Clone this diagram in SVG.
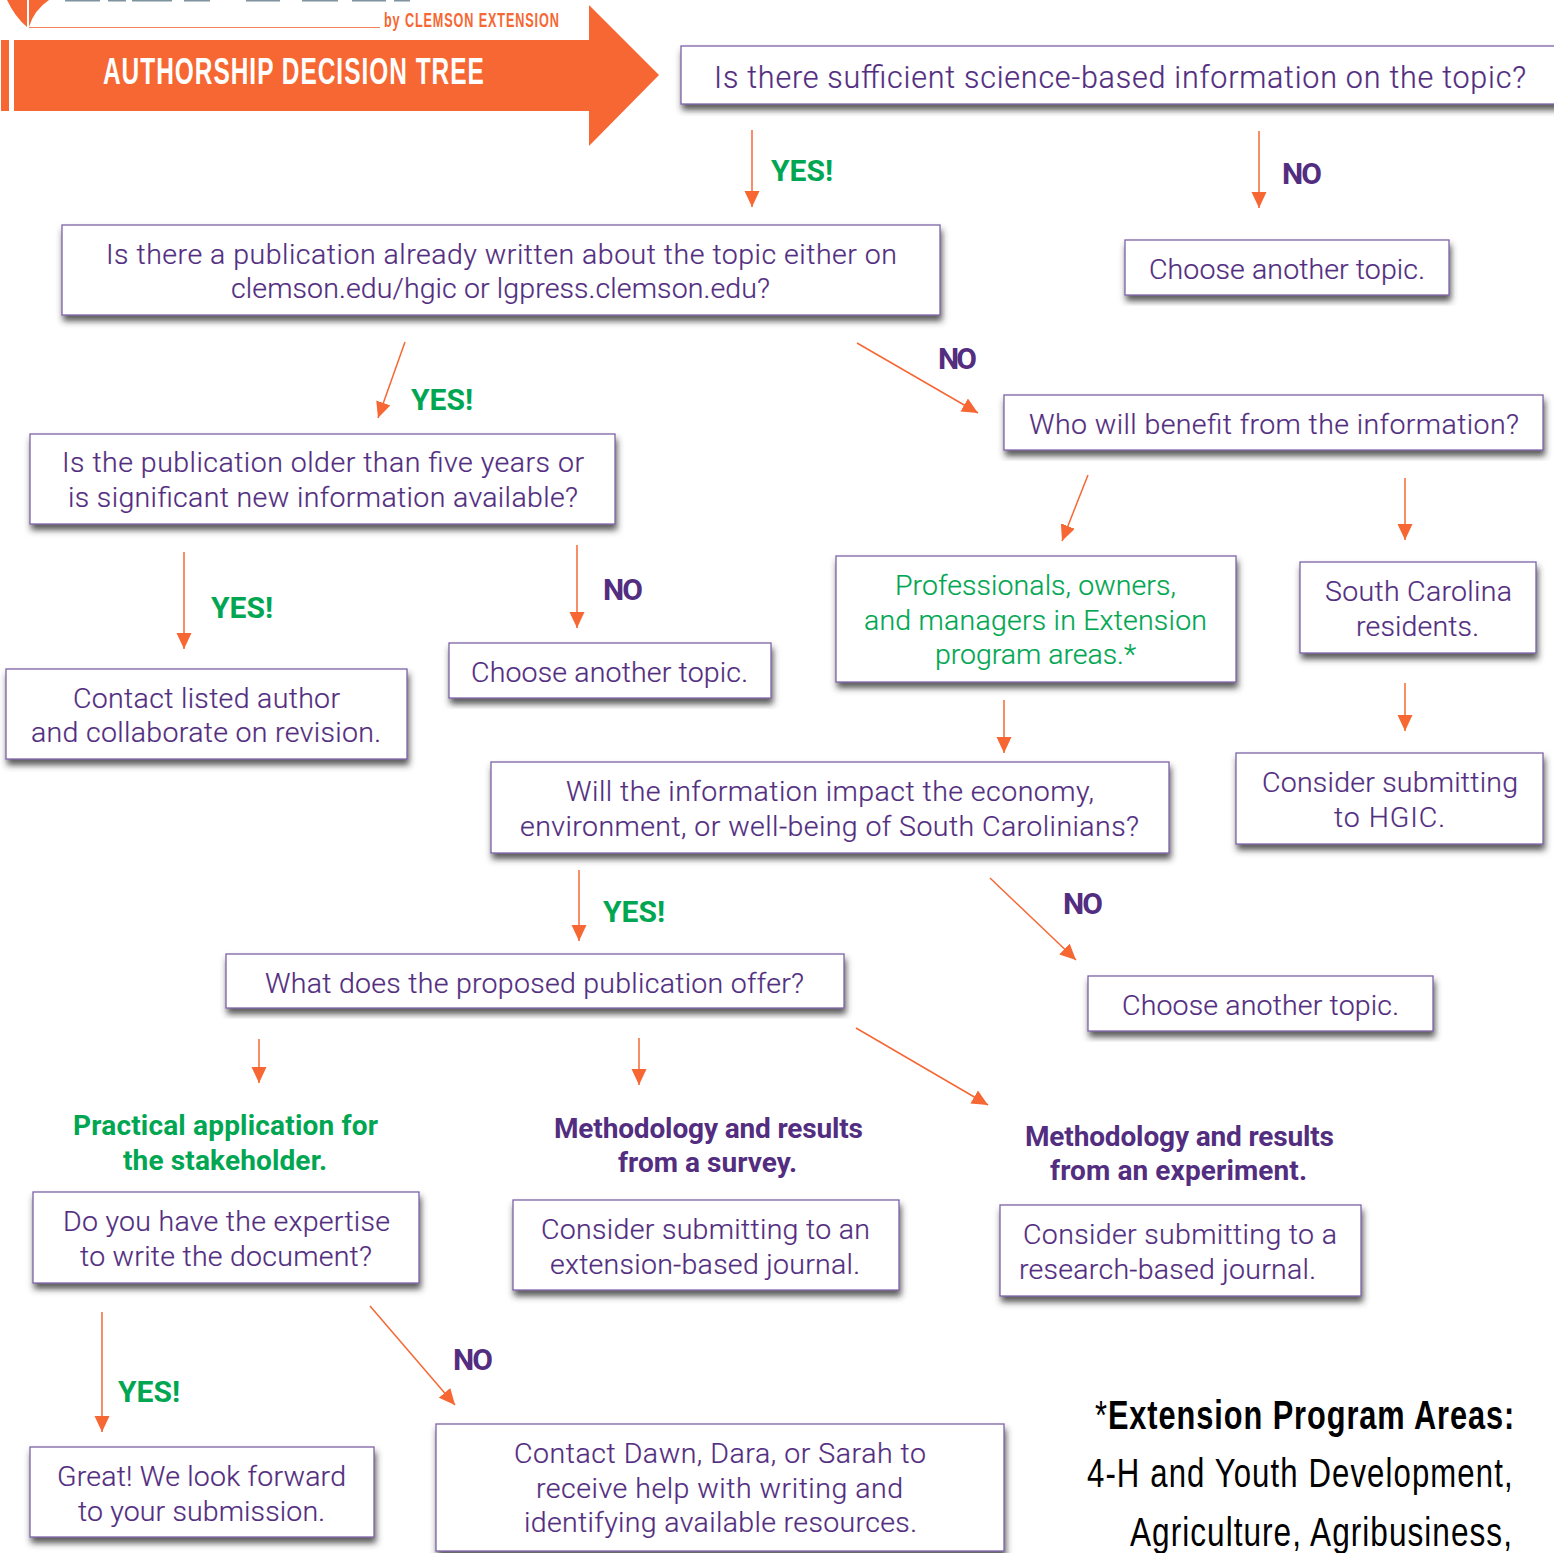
<svg xmlns="http://www.w3.org/2000/svg" width="1554" height="1553" viewBox="0 0 1554 1553">
<style>
text{font-family:Roboto,"Liberation Sans",sans-serif}
.b{fill:#fff;stroke:#7d63a6;stroke-width:1.300;filter:url(#s)}
.t{font-size:28.500px;font-weight:300;fill:#522d80;stroke:#522d80;stroke-width:.2}
.t.g{fill:#00a651;stroke:#00a651}
.h{font-size:30px;font-weight:700;fill:#522d80}
.y{font-size:30px;font-weight:700;fill:#00a651}
.m{font-size:28px}
.n{font-family:"Liberation Sans",sans-serif}
.c line{stroke:#f66733;stroke-width:1.500;marker-end:url(#a)}
</style>
<defs>
<filter id="s" x="-5%" y="-20%" width="110%" height="140%"><feDropShadow dx="1.500" dy="5.500" stdDeviation="3" flood-color="#333" flood-opacity=".8"/></filter>
<marker id="a" markerUnits="userSpaceOnUse" markerWidth="18" markerHeight="18" refX="16" refY="7.5" orient="auto"><path d="M0 0L16 7.500L0 15z" fill="#f66733"/></marker>
</defs>
<rect width="1554" height="1553" fill="#fff"/>
<g id="header">
<path d="M7 0Q15 17 27 27L27 0zM29 0L29 27Q34 10 49 0z" fill="#f66733"/>
<g fill="#7f949f"><rect x="65" y="0" width="35" height="1.500"/><rect x="108" y="0" width="18" height="1.500"/><rect x="132" y="0" width="40" height="1.500"/><rect x="184" y="0" width="26" height="1.500"/><rect x="246" y="0" width="34" height="1.500"/><rect x="302" y="0" width="36" height="1.500"/><rect x="352" y="0" width="34" height="1.500"/><rect x="394" y="0" width="16" height="1.500"/></g>
<path d="M29 27.500H380" stroke="#f3825a" stroke-width="1"/>
<text class="n" transform="translate(384 27) scale(.65 1)" font-size="19.500" font-weight="700" fill="#f66733" textLength="269">by CLEMSON EXTENSION</text>
<rect x="1" y="40" width="8" height="71" fill="#f66733"/>
<path d="M14 40H589V5L659 75L589 146V111H14z" fill="#f66733"/>
<text class="n" transform="translate(103 84) scale(.66 1)" font-size="37" font-weight="700" fill="#fff" textLength="577">AUTHORSHIP DECISION TREE</text>
</g>
<g id="connectors" class="c">
<line x1="752" y1="130" x2="752" y2="207"/><line x1="1259" y1="131" x2="1259" y2="208"/>
<line x1="405" y1="342" x2="378" y2="418"/><line x1="857" y1="343" x2="978" y2="413"/>
<line x1="1088" y1="475" x2="1062" y2="541"/><line x1="1405" y1="478" x2="1405" y2="540"/>
<line x1="184" y1="552" x2="184" y2="649"/><line x1="577" y1="545" x2="577" y2="628"/>
<line x1="1405" y1="683" x2="1405" y2="731"/><line x1="1004" y1="700" x2="1004" y2="753"/>
<line x1="579" y1="870" x2="579" y2="941"/><line x1="990" y1="878" x2="1076" y2="960"/>
<line x1="259" y1="1039" x2="259" y2="1083"/><line x1="639" y1="1038" x2="639" y2="1085"/>
<line x1="856" y1="1028" x2="988" y2="1105"/><line x1="102" y1="1312" x2="102" y2="1432"/>
<line x1="370" y1="1306" x2="455" y2="1405"/>
</g>
<g id="n1"><rect class="b" x="681" y="46" width="880" height="58"/><text class="t" x="714" y="88" style="font-size:30.500px" textLength="812">Is there sufficient science-based information on the topic?</text></g>
<g id="n2"><rect class="b" x="62" y="225" width="878" height="90"/><text class="t" x="106" y="264" textLength="791">Is there a publication already written about the topic either on</text><text class="t" x="231" y="298" textLength="539">clemson.edu/hgic or lgpress.clemson.edu?</text></g>
<g id="n3"><rect class="b" x="1125" y="240" width="324" height="55"/><text class="t" x="1149" y="279" textLength="276">Choose another topic.</text></g>
<g id="n4"><rect class="b" x="1004" y="395" width="539" height="55"/><text class="t" x="1029" y="434" textLength="490">Who will benefit from the information?</text></g>
<g id="n5"><rect class="b" x="30" y="434" width="585" height="90"/><text class="t" x="62" y="472" textLength="522">Is the publication older than five years or</text><text class="t" x="68" y="507" textLength="510">is significant new information available?</text></g>
<g id="n6"><rect class="b" x="6" y="669" width="401" height="90"/><text class="t" x="73" y="708" textLength="267">Contact listed author</text><text class="t" x="31" y="742" textLength="350">and collaborate on revision.</text></g>
<g id="n7"><rect class="b" x="449" y="643" width="322" height="55"/><text class="t" x="471" y="682" textLength="277">Choose another topic.</text></g>
<g id="n8"><rect class="b" x="836" y="556" width="400" height="126"/><text class="t g" x="895" y="595" textLength="281">Professionals, owners,</text><text class="t g" x="864" y="630" textLength="343">and managers in Extension</text><text class="t g" x="935" y="664" textLength="201">program areas.*</text></g>
<g id="n9"><rect class="b" x="1300" y="562" width="236" height="91"/><text class="t" x="1325" y="601" textLength="187">South Carolina</text><text class="t" x="1356" y="636" textLength="123">residents.</text></g>
<g id="n10"><rect class="b" x="1236" y="753" width="307" height="91"/><text class="t" x="1262" y="792" textLength="256">Consider submitting</text><text class="t" x="1334" y="827" textLength="111">to HGIC.</text></g>
<g id="n11"><rect class="b" x="491" y="762" width="678" height="91"/><text class="t" x="566" y="801" textLength="528">Will the information impact the economy,</text><text class="t" x="520" y="836" textLength="619">environment, or well-being of South Carolinians?</text></g>
<g id="n12"><rect class="b" x="1088" y="976" width="345" height="55"/><text class="t" x="1122" y="1015" textLength="277">Choose another topic.</text></g>
<g id="n13"><rect class="b" x="226" y="954" width="618" height="54"/><text class="t" x="265" y="993" textLength="539">What does the proposed publication offer?</text></g>
<g id="n14"><rect class="b" x="33" y="1192" width="386" height="91"/><text class="t" x="63" y="1231" textLength="327">Do you have the expertise</text><text class="t" x="80" y="1266" textLength="292">to write the document?</text></g>
<g id="n15"><rect class="b" x="513" y="1200" width="386" height="90"/><text class="t" x="541" y="1239" textLength="329">Consider submitting to an</text><text class="t" x="550" y="1274" textLength="310">extension-based journal.</text></g>
<g id="n16"><rect class="b" x="1000" y="1205" width="361" height="91"/><text class="t" x="1023" y="1244" textLength="314">Consider submitting to a</text><text class="t" x="1019" y="1279" textLength="297">research-based journal.</text></g>
<g id="n17"><rect class="b" x="30" y="1447" width="344" height="90"/><text class="t" x="57" y="1486" textLength="289">Great! We look forward</text><text class="t" x="78" y="1521" textLength="247">to your submission.</text></g>
<g id="n18"><rect class="b" x="436" y="1424" width="568" height="127"/><text class="t" x="514" y="1463" textLength="412">Contact Dawn, Dara, or Sarah to</text><text class="t" x="536" y="1498" textLength="367">receive help with writing and</text><text class="t" x="524" y="1532" textLength="393">identifying available resources.</text></g>
<g id="heads">
<text class="y m" x="73" y="1135" textLength="305">Practical application for</text><text class="y m" x="123" y="1170" textLength="204">the stakeholder.</text>
<text class="h m" x="554" y="1138" textLength="309">Methodology and results</text><text class="h m" x="618" y="1172" textLength="179">from a survey.</text>
<text class="h m" x="1025" y="1146" textLength="309">Methodology and results</text><text class="h m" x="1050" y="1180" textLength="257">from an experiment.</text>
</g>
<g id="labels">
<text class="y" x="771" y="181" textLength="62">YES!</text><text class="h" x="1282" y="184" textLength="40">NO</text>
<text class="h" x="938" y="369" textLength="39">NO</text><text class="y" x="411" y="410" textLength="62">YES!</text>
<text class="y" x="211" y="618" textLength="62">YES!</text><text class="h" x="603" y="600" textLength="40">NO</text>
<text class="h" x="1063" y="914" textLength="40">NO</text><text class="y" x="603" y="922" textLength="62">YES!</text>
<text class="y" x="118" y="1402" textLength="62">YES!</text><text class="h" x="453" y="1370" textLength="40">NO</text>
</g>
<g id="footnote" fill="#000">
<text class="n" transform="translate(1095 1429) scale(.75 1)" font-size="41" font-weight="700" textLength="559"><tspan font-weight="400">*</tspan>Extension Program Areas:</text>
<text class="n" transform="translate(1087 1487) scale(.76 1)" font-size="41" textLength="560">4-H and Youth Development,</text>
<text class="n" transform="translate(1130 1546) scale(.77 1)" font-size="41" textLength="496">Agriculture, Agribusiness,</text>
</g>
</svg>
